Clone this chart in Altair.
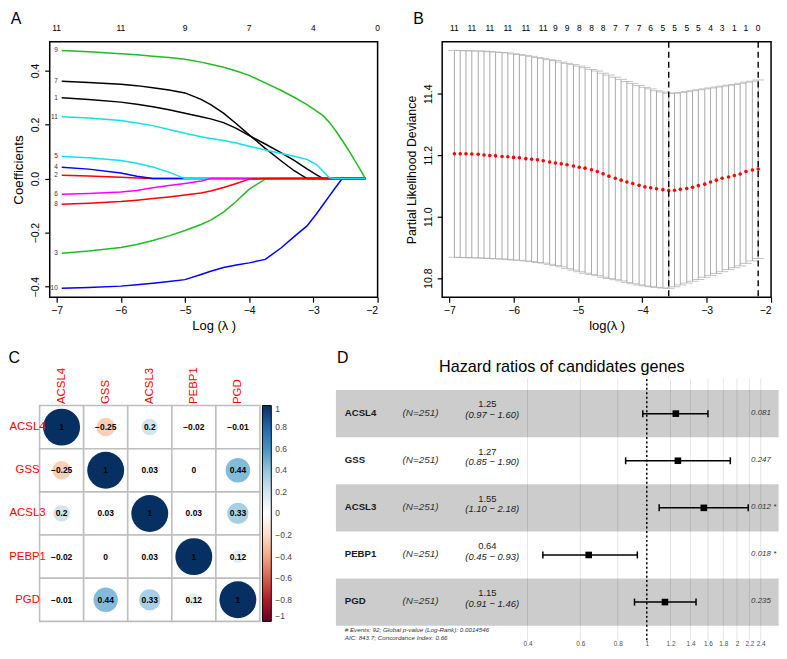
import altair as alt
import pandas as pd

FONT = "Liberation Sans"

# ---------------- Panel A : LASSO coefficient paths ----------------
A_loglam = [-6.92, -6.5, -6.0, -5.75, -5.5, -5.25, -5.0, -4.75, -4.6, -4.4,
            -4.2, -4.0, -3.75, -3.5, -3.3, -3.1, -2.95, -2.85, -2.75, -2.65,
            -2.55, -2.45, -2.35, -2.27, -2.19]
coef_1 = [0.299, 0.293, 0.283, 0.275, 0.266, 0.255, 0.242, 0.229, 0.221, 0.207,
          0.186, 0.159, 0.128, 0.095, 0.067, 0.036, 0.014, 0.0, 0.0, 0.0,
          0.0, 0.0, 0.0, 0.0, 0.0]
coef_2 = [0.012, 0.010, 0.005, 0.002, 0.0, 0.0, 0.0, 0.0, 0.0, 0.0,
          0.0, 0.0, 0.0, 0.0, 0.0, 0.0, 0.0, 0.0, 0.0, 0.0,
          0.0, 0.0, 0.0, 0.0, 0.0]
coef_3 = [-0.276, -0.268, -0.255, -0.244, -0.229, -0.212, -0.192, -0.170, -0.154, -0.124,
          -0.084, -0.039, -0.002, 0.0, 0.0, 0.0, 0.0, 0.0, 0.0, 0.0,
          0.0, 0.0, 0.0, 0.0, 0.0]
coef_4 = [0.042, 0.035, 0.021, 0.009, 0.0, 0.0, 0.0, 0.0, 0.0, 0.0,
          0.0, 0.0, 0.0, 0.0, 0.0, 0.0, 0.0, 0.0, 0.0, 0.0,
          0.0, 0.0, 0.0, 0.0, 0.0]
coef_5 = [0.082, 0.077, 0.067, 0.057, 0.043, 0.024, 0.0, 0.0, 0.0, 0.0,
          0.0, 0.0, 0.0, 0.0, 0.0, 0.0, 0.0, 0.0, 0.0, 0.0,
          0.0, 0.0, 0.0, 0.0, 0.0]
coef_6 = [-0.058, -0.055, -0.050, -0.044, -0.034, -0.026, -0.018, -0.009, 0.0, 0.0,
          0.0, 0.0, 0.0, 0.0, 0.0, 0.0, 0.0, 0.0, 0.0, 0.0,
          0.0, 0.0, 0.0, 0.0, 0.0]
coef_7 = [0.360, 0.356, 0.349, 0.344, 0.336, 0.328, 0.317, 0.293, 0.274, 0.242,
          0.203, 0.162, 0.112, 0.065, 0.029, 0.0, 0.0, 0.0, 0.0, 0.0,
          0.0, 0.0, 0.0, 0.0, 0.0]
coef_8 = [-0.095, -0.091, -0.085, -0.080, -0.074, -0.068, -0.061, -0.053, -0.046, -0.033,
          -0.018, -0.002, 0.0, 0.0, 0.0, 0.0, 0.0, 0.0, 0.0, 0.0,
          0.0, 0.0, 0.0, 0.0, 0.0]
coef_9 = [0.474, 0.469, 0.462, 0.458, 0.453, 0.448, 0.442, 0.431, 0.423, 0.412,
          0.398, 0.382, 0.354, 0.326, 0.301, 0.274, 0.250, 0.233, 0.208, 0.176,
          0.141, 0.104, 0.065, 0.033, 0.0]
coef_10 = [-0.406, -0.403, -0.398, -0.393, -0.387, -0.381, -0.374, -0.355, -0.343, -0.329,
           -0.320, -0.312, -0.299, -0.256, -0.215, -0.175, -0.130, -0.097, -0.064, -0.031,
           0.0, 0.0, 0.0, 0.0, 0.0]
coef_11 = [0.229, 0.224, 0.215, 0.206, 0.196, 0.182, 0.168, 0.155, 0.148, 0.141,
           0.132, 0.120, 0.106, 0.093, 0.083, 0.071, 0.052, 0.027, 0.003, 0.0,
           0.0, 0.0, 0.0, 0.0, 0.0]
A_top_pos = [-7, -6, -5, -4, -3, -2]
A_top_lab = ["11", "11", "9", "7", "4", "0"]
A_palette = ["#000000", "#FF0000", "#22BB22", "#0000FF", "#11E0EE", "#FF00FF"]

# ---------------- Panel B : cross-validation curve ----------------
B_loglam = [-6.92, -6.83, -6.74, -6.65, -6.55, -6.46, -6.37, -6.28, -6.18, -6.09,
            -6.00, -5.91, -5.81, -5.72, -5.63, -5.54, -5.44, -5.35, -5.26, -5.17,
            -5.07, -4.98, -4.89, -4.79, -4.70, -4.61, -4.52, -4.42, -4.33, -4.24,
            -4.15, -4.05, -3.96, -3.87, -3.78, -3.68, -3.59, -3.50, -3.41, -3.31,
            -3.22, -3.13, -3.03, -2.94, -2.85, -2.76, -2.66, -2.57, -2.48, -2.39,
            -2.29, -2.20]
B_mean = [11.205, 11.205, 11.205, 11.204, 11.203, 11.201, 11.199, 11.198, 11.196, 11.195,
          11.193, 11.192, 11.189, 11.187, 11.185, 11.182, 11.178, 11.175, 11.172, 11.169,
          11.165, 11.161, 11.158, 11.153, 11.147, 11.140, 11.132, 11.125, 11.119, 11.113,
          11.108, 11.102, 11.097, 11.094, 11.091, 11.088, 11.085, 11.086, 11.089, 11.092,
          11.096, 11.101, 11.106, 11.113, 11.119, 11.125, 11.129, 11.134, 11.139, 11.147,
          11.152, 11.155]
B_upper = [11.541, 11.541, 11.540, 11.540, 11.539, 11.539, 11.537, 11.536, 11.534, 11.533,
           11.530, 11.528, 11.525, 11.522, 11.518, 11.515, 11.511, 11.508, 11.503, 11.499,
           11.495, 11.490, 11.485, 11.479, 11.474, 11.467, 11.461, 11.454, 11.447, 11.440,
           11.434, 11.427, 11.421, 11.416, 11.410, 11.406, 11.402, 11.402, 11.404, 11.407,
           11.410, 11.413, 11.416, 11.419, 11.422, 11.425, 11.428, 11.430, 11.434, 11.438,
           11.441, 11.445]
B_lower = [10.868, 10.867, 10.867, 10.866, 10.866, 10.865, 10.864, 10.863, 10.862, 10.861,
           10.859, 10.858, 10.856, 10.854, 10.851, 10.849, 10.845, 10.841, 10.837, 10.831,
           10.826, 10.821, 10.816, 10.812, 10.808, 10.803, 10.799, 10.795, 10.791, 10.786,
           10.782, 10.778, 10.775, 10.772, 10.770, 10.768, 10.767, 10.772, 10.778, 10.784,
           10.790, 10.796, 10.803, 10.809, 10.815, 10.821, 10.828, 10.834, 10.840, 10.848,
           10.856, 10.864]
B_top_pos = [-6.92, -6.65, -6.37, -6.09, -5.81, -5.54, -5.35, -5.17, -4.98, -4.79,
             -4.61, -4.42, -4.24, -4.05, -3.87, -3.68, -3.50, -3.31, -3.13, -2.94,
             -2.76, -2.57, -2.39, -2.20]
B_top_lab = ["11", "11", "11", "11", "11", "11", "9", "9", "8", "8",
             "8", "7", "7", "7", "6", "5", "5", "5", "5", "4",
             "3", "1", "1", "0"]
B_lambda_min = -3.59
B_lambda_1se = -2.20

# ---------------- Panel C : correlation matrix ----------------
C_genes = ["ACSL4", "GSS", "ACSL3", "PEBP1", "PGD"]
C_r_ACSL4 = [1, -0.25, 0.2, -0.02, -0.01]
C_r_GSS = [-0.25, 1, 0.03, 0, 0.44]
C_r_ACSL3 = [0.2, 0.03, 1, 0.03, 0.33]
C_r_PEBP1 = [-0.02, 0, 0.03, 1, 0.12]
C_r_PGD = [-0.01, 0.44, 0.33, 0.12, 1]
C_bar_ticks = [1, 0.8, 0.6, 0.4, 0.2, 0, -0.2, -0.4, -0.6, -0.8, -1]
COL2_stops = [-1, -0.8, -0.6, -0.4, -0.2, 0, 0.2, 0.4, 0.6, 0.8, 1]
COL2_colors = ["#67001F", "#B2182B", "#D6604D", "#F4A582", "#FDDBC7", "#FFFFFF",
               "#D1E5F0", "#92C5DE", "#4393C3", "#2166AC", "#053061"]

# ---------------- Panel D : forest plot ----------------
D_genes = ["ACSL4", "GSS", "ACSL3", "PEBP1", "PGD"]
D_n = [251, 251, 251, 251, 251]
D_hr = [1.25, 1.27, 1.55, 0.64, 1.15]
D_lo = [0.97, 0.85, 1.10, 0.45, 0.91]
D_hi = [1.60, 1.90, 2.18, 0.93, 1.46]
D_p = ["0.081", "0.247", "0.012 *", "0.018 *", "0.235"]
D_ticks = [0.4, 0.6, 0.8, 1, 1.2, 1.4, 1.6, 1.8, 2, 2.2, 2.4]
D_title = "Hazard ratios of candidates genes"
D_foot = ["# Events: 92; Global p-value (Log-Rank): 0.0014546",
          "AIC: 843.7; Concordance Index: 0.66"]

# ---------------- layout (pixels) ----------------
A_W, A_H = 330, 257
B_W, B_H = 331, 257
C_W, C_H = 223, 217.3
D_W, D_H = 338.6, 221.55
TOP_LAB_Y = -14.3
LETTER_SIZE = 16
NO_FRAME = alt.ViewBackground(fill="white", stroke="white", strokeWidth=0, strokeOpacity=0)
FRAME = alt.ViewBackground(stroke="black", strokeWidth=1.5)

# forest-plot annotation columns, placed on the hazard-ratio (log) axis as survminer does
D_RANGE = [0.09177, 2.7534]      # extent of the grey bands
D_X_NAME, D_X_N, D_X_EST, D_X_CI = 0.0982, 0.1758, 0.2937, 0.3049
D_X_P, D_X_TITLE = 2.2284, 0.5208


def letter(txt, x, y):
    return alt.Chart(pd.DataFrame({"t": [txt]})).mark_text(
        align="left", baseline="alphabetic", fontSize=LETTER_SIZE, color="black"
    ).encode(x=alt.value(x), y=alt.value(y), text="t:N")


def r_axis(values, fmt, title, title_x, h, title_size):
    return alt.Axis(values=values, format=fmt, title=title, labelAngle=-90,
                    labelAlign="center", labelBaseline="bottom", labelPadding=4,
                    labelFontSize=10.5, labelColor="black", tickSize=5, tickColor="black",
                    tickWidth=1.2, domain=False, grid=False, titleX=title_x, titleY=h / 2,
                    titleAngle=-90, titleAlign="center", titleBaseline="middle",
                    titleFontSize=title_size, titleFontWeight="normal", titleColor="black")


def r_xaxis(title, w, title_size):
    return alt.Axis(values=[-7, -6, -5, -4, -3, -2], format="d", title=title,
                    labelFontSize=10.5, labelColor="black", labelPadding=3, tickSize=5,
                    tickColor="black", tickWidth=1.2, domain=False, grid=False,
                    titleX=w / 2, titleY=29, titleAlign="center", titleBaseline="middle",
                    titleFontSize=title_size, titleFontWeight="normal", titleColor="black")


# ===== Panel A =====
A_lines = [coef_1, coef_2, coef_3, coef_4, coef_5, coef_6, coef_7, coef_8, coef_9, coef_10, coef_11]
rowsA = []
for i, cf in enumerate(A_lines, start=1):
    for x, y in zip(A_loglam, cf):
        rowsA.append({"var": i, "loglam": x, "coef": y})
dfA = pd.DataFrame(rowsA)
dfA_lab = pd.DataFrame({"var": [str(i) for i in range(1, 12)],
                        "loglam": [A_loglam[0]] * 11,
                        "coef": [cf[0] for cf in A_lines]})
dfA_top = pd.DataFrame({"loglam": A_top_pos, "lab": A_top_lab})

xA_scale = alt.Scale(domain=[-7.107, -2.0], nice=False, zero=False)
yA_scale = alt.Scale(domain=[-0.439, 0.506], nice=False, zero=False)
lineA = alt.Chart(dfA).mark_line(strokeWidth=1.5).encode(
    x=alt.X("loglam:Q", scale=xA_scale, axis=r_xaxis("Log (\u03bb )", A_W, 13)),
    y=alt.Y("coef:Q", scale=yA_scale,
            axis=r_axis([-0.4, -0.2, 0.0, 0.2, 0.4], ".1f", "Coefficients", -31.7, A_H, 13.4)),
    color=alt.Color("var:O", scale=alt.Scale(domain=list(range(1, 12)),
                                             range=[A_palette[(i - 1) % 6] for i in range(1, 12)]),
                    legend=None),
    detail="var:O",
)
labA = alt.Chart(dfA_lab).mark_text(align="right", baseline="middle", dx=-4, fontSize=6.5,
                                    color="#333333").encode(
    x=alt.X("loglam:Q", scale=xA_scale), y=alt.Y("coef:Q", scale=yA_scale), text="var:N")
topA = alt.Chart(dfA_top).mark_text(baseline="middle", fontSize=8.5, color="black").encode(
    x=alt.X("loglam:Q", scale=xA_scale), y=alt.value(TOP_LAB_Y), text="lab:N")
panelA = alt.layer(lineA, labA, topA, letter("A", -39.3, -18.1)).properties(
    width=A_W, height=A_H, view=FRAME)

# ===== Panel B =====
dfB = pd.DataFrame({"loglam": B_loglam, "mean": B_mean, "upper": B_upper, "lower": B_lower})
dfB_top = pd.DataFrame({"loglam": B_top_pos, "lab": B_top_lab})
dfB_v = pd.DataFrame({"loglam": [B_lambda_min, B_lambda_1se]})
xB_scale = alt.Scale(domain=[-7.11, -2.0], nice=False, zero=False)
yB_scale = alt.Scale(domain=[10.738, 11.569], nice=False, zero=False)
barsB = alt.Chart(dfB).mark_rule(color="#A9A9A9", strokeWidth=1).encode(
    x=alt.X("loglam:Q", scale=xB_scale, axis=r_xaxis("log(\u03bb )", B_W, 13)),
    y=alt.Y("lower:Q", scale=yB_scale,
            axis=r_axis([10.8, 11.0, 11.2, 11.4], ".1f", "Partial Likelihood Deviance", -30.9, B_H, 12.4)),
    y2="upper:Q")
capU = alt.Chart(dfB).mark_tick(orient="horizontal", size=12, thickness=1, color="#A9A9A9").encode(
    x=alt.X("loglam:Q", scale=xB_scale), y=alt.Y("upper:Q", scale=yB_scale))
capL = alt.Chart(dfB).mark_tick(orient="horizontal", size=12, thickness=1, color="#A9A9A9").encode(
    x=alt.X("loglam:Q", scale=xB_scale), y=alt.Y("lower:Q", scale=yB_scale))
ptsB = alt.Chart(dfB).mark_circle(color="#FF0000", size=13, opacity=1).encode(
    x=alt.X("loglam:Q", scale=xB_scale), y=alt.Y("mean:Q", scale=yB_scale))
vB = alt.Chart(dfB_v).mark_rule(color="black", strokeDash=[6, 4], strokeWidth=1.4).encode(
    x=alt.X("loglam:Q", scale=xB_scale))
topB = alt.Chart(dfB_top).mark_text(baseline="middle", fontSize=8.5, color="black").encode(
    x=alt.X("loglam:Q", scale=xB_scale), y=alt.value(TOP_LAB_Y), text="lab:N")
panelB = alt.layer(barsB, capU, capL, ptsB, vB, topB, letter("B", -29.0, -18.1)).properties(
    width=B_W, height=B_H, view=FRAME)

# ===== Panel C =====
C_rows = [C_r_ACSL4, C_r_GSS, C_r_ACSL3, C_r_PEBP1, C_r_PGD]
rowsC = []
for gi, rvals in zip(C_genes, C_rows):
    for gj, r in zip(C_genes, rvals):
        rowsC.append({"rowg": gi, "colg": gj, "r": r, "absr": abs(r)})
dfC = pd.DataFrame(rowsC)
xC = alt.X("colg:N", sort=C_genes,
           scale=alt.Scale(type="band", range=[-10.2, 211.56], paddingInner=0, paddingOuter=0),
           axis=alt.Axis(orient="top", labelAngle=-90, labelAlign="left", labelBaseline="middle",
                         labelColor="#FF0000", labelFontSize=11.5, labelPadding=2, ticks=False,
                         domain=False, grid=False, title=None))
yC = alt.Y("rowg:N", sort=C_genes,
           scale=alt.Scale(type="band", range=[0, C_H], paddingInner=0, paddingOuter=0),
           axis=alt.Axis(orient="left", labelAlign="center", labelBaseline="middle",
                         labelColor="#FF0000", labelFontSize=11.5, labelPadding=22.8, ticks=False,
                         domain=False, grid=False, title=None))
cellsC = alt.Chart(dfC).mark_rect(fill="white", stroke="#BEBEBE", strokeWidth=1.6).encode(x=xC, y=yC)
circC = alt.Chart(dfC).mark_circle(opacity=1).encode(
    x=xC, y=yC,
    size=alt.Size("absr:Q", scale=alt.Scale(domain=[0, 1], range=[0, 1380]), legend=None),
    color=alt.Color("r:Q", scale=alt.Scale(domain=COL2_stops, range=COL2_colors, interpolate="rgb"),
                    legend=alt.Legend(orient="none", legendX=214.1, legendY=0, direction="vertical",
                                      gradientLength=C_H, gradientThickness=8.9, values=C_bar_ticks,
                                      format="~g", labelFontSize=8.5, labelColor="#444444",
                                      labelOffset=4, title=None, gradientStrokeColor="black",
                                      gradientStrokeWidth=1, padding=0, labelOverlap=False)))
txtC = alt.Chart(dfC).mark_text(fontSize=8.5, fontWeight="bold", color="black").encode(
    x=xC, y=yC, text=alt.Text("r:Q", format="~g"))
panelC = alt.layer(cellsC, circC, txtC, letter("C", -41.6, -43.0)).properties(
    width=C_W, height=C_H, view=NO_FRAME)

# ===== Panel D =====
LOGX = alt.Scale(type="log", domain=[0.20763, 2.7534], nice=False)
ROW = alt.Scale(domain=[0.3273, 5.0], reverse=True, nice=False, zero=False)
dfD = pd.DataFrame({
    "gene": D_genes,
    "n": ["(N=%d)" % v for v in D_n],
    "est": ["%.2f" % v for v in D_hr],
    "ci": ["(%.2f \u2212 %.2f)" % (a, b) for a, b in zip(D_lo, D_hi)],
    "p": D_p,
    "hr": D_hr, "lo": D_lo, "hi": D_hi,
    "rowc": [i + 0.5 for i in range(len(D_genes))],
    "top": [i for i in range(len(D_genes))],
    "bot": [i + 1 for i in range(len(D_genes))],
})
dfD["cap0"] = dfD["rowc"] - 0.074
dfD["cap1"] = dfD["rowc"] + 0.074
dfD["x0"] = D_RANGE[0]
dfD["x1"] = D_RANGE[1]
dfD_band = dfD[dfD["top"] % 2 == 0]
dfD_grid = pd.DataFrame({"v": D_ticks})
dfD_one = pd.DataFrame({"v": [1.0]})
dfD_foot = pd.DataFrame({"t": D_foot, "row": [5.089, 5.273]})
dfD_title = pd.DataFrame({"t": [D_title]})

NOAX = None
yrow = alt.Y("rowc:Q", scale=ROW, axis=NOAX)
bandD = alt.Chart(dfD_band).mark_rect(color="#CCCCCC").encode(
    x=alt.X("x0:Q", scale=LOGX,
            axis=alt.Axis(values=D_ticks, format="~g", labelFontSize=6.5, labelColor="#4D4D4D",
                          ticks=False, domain=False, grid=False, labelPadding=15, title=None,
                          labelOverlap=False, labelFlush=False)),
    x2="x1:Q",
    y=alt.Y("top:Q", scale=ROW, axis=NOAX), y2="bot:Q")
gridD = alt.Chart(dfD_grid).mark_rule(color="black", opacity=0.11, strokeWidth=1).encode(
    x=alt.X("v:Q", scale=LOGX),
    y=alt.YDatum(-0.237, scale=ROW, axis=NOAX), y2=alt.Y2Datum(5.313))
oneD = alt.Chart(dfD_one).mark_rule(color="black", strokeDash=[2, 2.5], strokeWidth=1.5).encode(
    x=alt.X("v:Q", scale=LOGX),
    y=alt.YDatum(-0.237, scale=ROW, axis=NOAX), y2=alt.Y2Datum(5.313))
errD = alt.Chart(dfD).mark_rule(color="black", strokeWidth=1.5).encode(
    x=alt.X("lo:Q", scale=LOGX), x2="hi:Q", y=yrow)
capLo = alt.Chart(dfD).mark_rule(color="black", strokeWidth=1.5).encode(
    x=alt.X("lo:Q", scale=LOGX), y=alt.Y("cap0:Q", scale=ROW, axis=NOAX), y2="cap1:Q")
capHi = alt.Chart(dfD).mark_rule(color="black", strokeWidth=1.5).encode(
    x=alt.X("hi:Q", scale=LOGX), y=alt.Y("cap0:Q", scale=ROW, axis=NOAX), y2="cap1:Q")
sqD = alt.Chart(dfD).mark_square(color="black", size=44, opacity=1).encode(
    x=alt.X("hr:Q", scale=LOGX), y=yrow)


def d_text(field, xval, dy, **kw):
    return alt.Chart(dfD).mark_text(baseline="middle", dy=dy, **kw).encode(
        x=alt.XDatum(xval, scale=LOGX), y=yrow, text=field)


geneD = d_text("gene:N", D_X_NAME, -1, align="left", fontWeight="bold", fontSize=9.7, color="#1A1A1A")
nD = d_text("n:N", D_X_N, -1, align="center", fontStyle="italic", fontSize=10, color="#333333")
estD = d_text("est:N", D_X_EST, -9.2, align="center", fontSize=9.5, color="#1A1A1A")
ciD = d_text("ci:N", D_X_CI, 1.6, align="center", fontStyle="italic", fontSize=9.5, color="#1A1A1A")
pD = d_text("p:N", D_X_P, -0.7, align="left", fontStyle="italic", fontSize=8, color="#333333")
footD = alt.Chart(dfD_foot).mark_text(align="left", baseline="middle", fontStyle="italic",
                                      fontSize=6.3, color="#333333").encode(
    x=alt.XDatum(D_X_NAME, scale=LOGX), y=alt.Y("row:Q", scale=ROW, axis=NOAX), text="t:N")
titleD = alt.Chart(dfD_title).mark_text(align="center", baseline="middle", fontSize=16.3,
                                        color="black").encode(
    x=alt.XDatum(D_X_TITLE, scale=LOGX), y=alt.YDatum(-0.497, scale=ROW, axis=NOAX), text="t:N")
panelD = alt.layer(bandD, gridD, oneD, errD, capLo, capHi, sqD, geneD, nD, estD, ciD, pD,
                   footD, titleD, letter("D", -105.9, -43.0)).properties(
    width=D_W, height=D_H, view=NO_FRAME)

chart = alt.concat(panelA, panelB, panelC, panelD, columns=2,
                   spacing={"row": 109, "column": 65}, bounds="flush", align="none").properties(
    padding=0, background="white"
).configure_view(stroke="white", strokeWidth=0, strokeOpacity=0).configure_axis(
    domain=False, grid=False
).configure(font=FONT)

chart.save("out.html", embed_options={"renderer": "svg", "actions": False})
